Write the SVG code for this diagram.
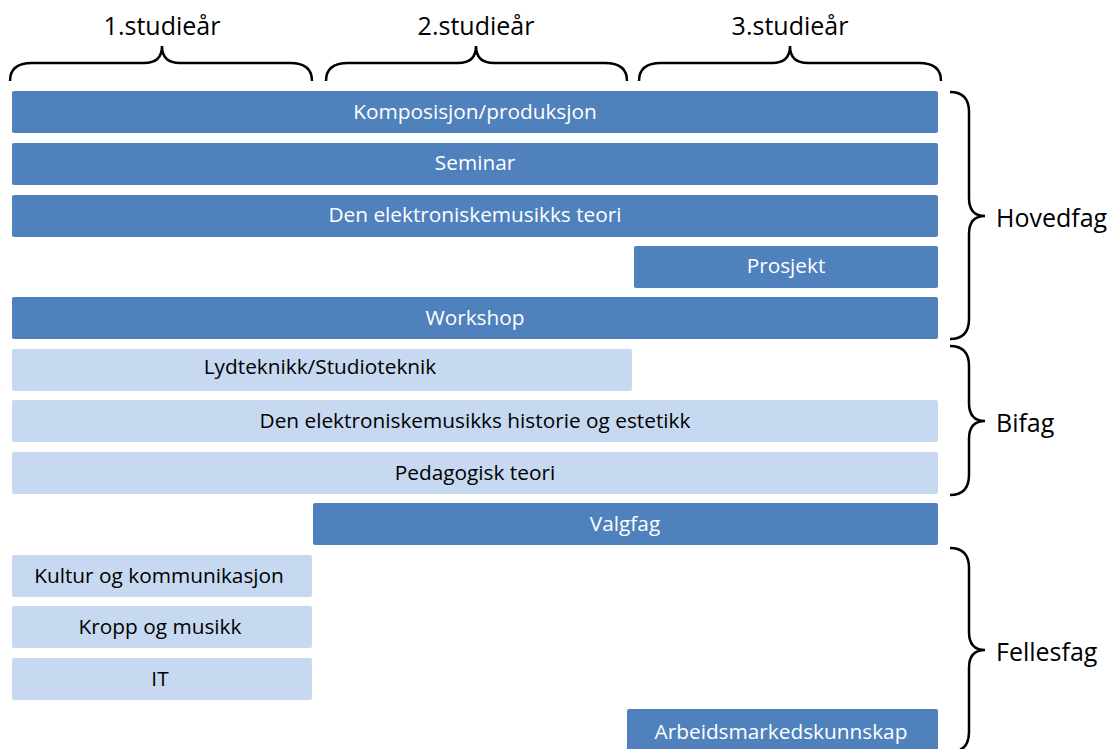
<svg xmlns="http://www.w3.org/2000/svg" width="1112" height="749" viewBox="0 0 1112 749">
<style>
.dark{fill:#4F81BD;}
.light{fill:#C6D9F1;}
.tw{font-family:"Open Sans","Liberation Sans",sans-serif;font-size:20.8px;fill:#FFFFFF;text-anchor:middle;}
.tb{font-family:"Open Sans","Liberation Sans",sans-serif;font-size:20.8px;fill:#000000;text-anchor:middle;}
.hd{font-family:"Open Sans","Liberation Sans",sans-serif;font-size:25px;fill:#000000;text-anchor:middle;}
.sd{font-family:"Open Sans","Liberation Sans",sans-serif;font-size:25px;fill:#000000;}
.brace{fill:none;stroke:#000000;stroke-width:2.5;}
</style>
<rect width="1112" height="749" fill="#FFFFFF"/>
<g id="headers">
<text class="hd" x="162" y="35">1.studieår</text>
<text class="hd" x="476" y="35">2.studieår</text>
<text class="hd" x="790" y="35">3.studieår</text>
</g>
<g id="braces">
<path class="brace" d="M10,81 Q10,63 32,63 L144,63 Q162,63 162,46 Q162,63 180,63 L290,63 Q312,63 312,81"/>
<path class="brace" d="M326,81 Q326,63 348,63 L458,63 Q476,63 476,46 Q476,63 494,63 L605,63 Q627,63 627,81"/>
<path class="brace" d="M639,81 Q639,63 661,63 L772,63 Q790,63 790,46 Q790,63 808,63 L919,63 Q941,63 941,81"/>
<path class="brace" d="M950,92 Q969,92 969,112 L969,198 Q969,216 985,216 Q969,216 969,234 L969,319 Q969,339 950,339"/>
<path class="brace" d="M950,346 Q969,346 969,366 L969,403 Q969,421 985,421 Q969,421 969,439 L969,475 Q969,495 950,495"/>
<path class="brace" d="M950,548 Q969,548 969,568 L969,632 Q969,650 985,650 Q969,650 969,668 L969,732 Q969,752 950,752"/>
</g>
<g id="groups">
<text class="sd" x="996" y="227">Hovedfag</text>
<text class="sd" x="996" y="432">Bifag</text>
<text class="sd" x="996" y="661">Fellesfag</text>
</g>
<g id="n1"><rect class="dark" x="12" y="91" width="926" height="42" rx="2"/><text class="tw" x="475" y="119">Komposisjon/produksjon</text></g>
<g id="n2"><rect class="dark" x="12" y="143" width="926" height="42" rx="2"/><text class="tw" x="475" y="170">Seminar</text></g>
<g id="n3"><rect class="dark" x="12" y="195" width="926" height="42" rx="2"/><text class="tw" x="475" y="222">Den elektroniskemusikks teori</text></g>
<g id="n4"><rect class="dark" x="634" y="246" width="304" height="42" rx="2"/><text class="tw" x="786" y="273">Prosjekt</text></g>
<g id="n5"><rect class="dark" x="12" y="297" width="926" height="42" rx="2"/><text class="tw" x="475" y="325">Workshop</text></g>
<g id="n6"><rect class="light" x="12" y="349" width="620" height="42" rx="2"/><text class="tb" x="320" y="374">Lydteknikk/Studioteknik</text></g>
<g id="n7"><rect class="light" x="12" y="400" width="926" height="42" rx="2"/><text class="tb" x="475" y="428">Den elektroniskemusikks historie og estetikk</text></g>
<g id="n8"><rect class="light" x="12" y="452" width="926" height="42" rx="2"/><text class="tb" x="475" y="480">Pedagogisk teori</text></g>
<g id="n9"><rect class="dark" x="313" y="503" width="625" height="42" rx="2"/><text class="tw" x="625" y="531">Valgfag</text></g>
<g id="n10"><rect class="light" x="12" y="555" width="300" height="42" rx="2"/><text class="tb" x="159" y="583">Kultur og kommunikasjon</text></g>
<g id="n11"><rect class="light" x="12" y="606" width="300" height="42" rx="2"/><text class="tb" x="160" y="634">Kropp og musikk</text></g>
<g id="n12"><rect class="light" x="12" y="658" width="300" height="42" rx="2"/><text class="tb" x="160" y="686">IT</text></g>
<g id="n13"><rect class="dark" x="627" y="709" width="311" height="45" rx="2"/><text class="tw" x="781" y="739">Arbeidsmarkedskunnskap</text></g>
</svg>
